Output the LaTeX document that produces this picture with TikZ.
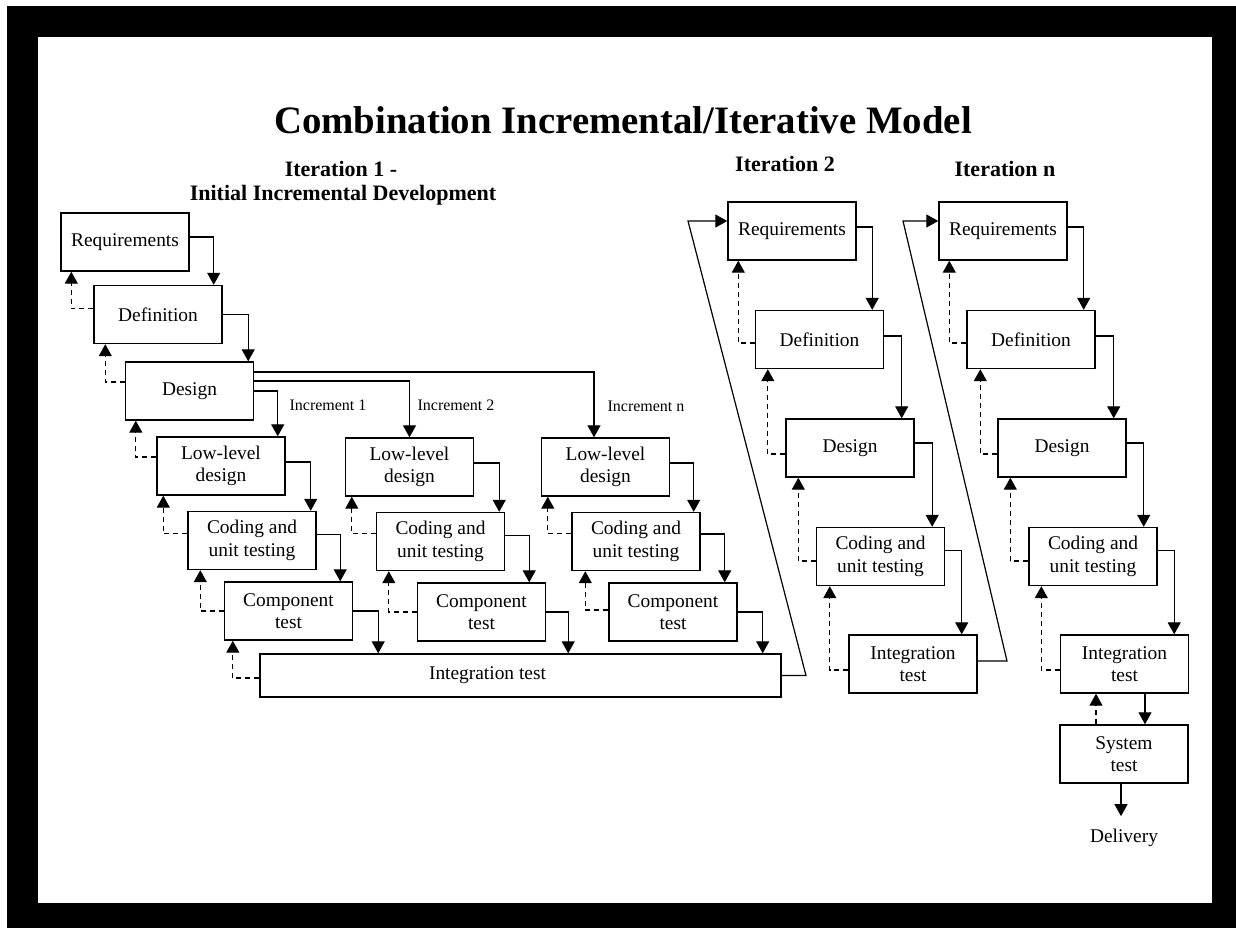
\documentclass[tikz,border=0pt]{standalone}
\usepackage{fontspec}
\setmainfont{Liberation Serif}
\usetikzlibrary{arrows.meta}

\begin{document}
\begin{tikzpicture}[x=0.5pt,y=-0.5pt,
    stage/.style={draw, line width=0.7pt, minimum width=64pt, minimum height=29pt, inner sep=1pt, align=center, font=\fontsize{9.7}{11.3}\selectfont},
    flow/.style={line width=0.6pt, -{Triangle[width=6.5pt,length=6pt]}},
    back/.style={flow, dash pattern=on 2.5pt off 2pt},
    heading/.style={anchor=base, font=\fontsize{11}{12}\selectfont\bfseries},
    inclabel/.style={font=\fontsize{8}{9.6}\selectfont}]
    \useasboundingbox (0,0) rectangle (1236,928);
    % black frame
    \fill[black] (7,6) rectangle (1236,928);
    \fill[white] (38,37) rectangle (1212,903);

    % titles
    \node[anchor=base, font=\fontsize{19.4}{22}\selectfont\bfseries] (title) at (623,133) {Combination Incremental/Iterative Model};
    \node[heading] (headIa) at (341,176) {Iteration 1 -};
    \node[heading] (headIb) at (343,200) {Initial Incremental Development};
    \node[heading] (headII) at (785,171) {Iteration 2};
    \node[heading] (headN) at (1005,176) {Iteration n};

    % iteration 1
    \node[stage] (reqI) at (125,242) {Requirements};
    \node[stage] (defI) at (158,314.5) {Definition};
    \node[stage] (desI) at (189.5,391) {Design};
    \node[stage] (lowI1) at (221,466) {Low-level\\design};
    \node[stage] (codI1) at (252,540.5) {Coding and\\unit testing};
    \node[stage] (comI1) at (288.5,611) {Component\\test};
    \node[stage] (lowI2) at (409.5,467) {Low-level\\design};
    \node[stage] (codI2) at (440.5,541.5) {Coding and\\unit testing};
    \node[stage] (comI2) at (481.5,612) {Component\\test};
    \node[stage] (lowIn) at (605.5,467) {Low-level\\design};
    \node[stage] (codIn) at (636,541.5) {Coding and\\unit testing};
    \node[stage] (comIn) at (673,612) {Component\\test};
    \node[stage, minimum width=260.5pt, minimum height=21.5pt] (intI) at (520.5,675.5) {Integration test\hspace*{33pt}};
    \node[inclabel] (incl1) at (328,405) {Increment 1};
    \node[inclabel] (incl2) at (456,405) {Increment 2};
    \node[inclabel] (incln) at (646,406) {Increment n};

    \draw[flow] ([yshift=2.5pt]reqI.east) -| ([xshift=-4.5pt]defI.north east);
    \draw[flow] (defI.east) -| ([xshift=-3pt]desI.north east);
    \draw[flow] (desI.east) -| ([xshift=-4pt]lowI1.north east);
    \draw[flow] ([yshift=5pt]desI.east) -| (lowI2.north);
    \draw[flow] ([yshift=9.5pt]desI.east) -| ([xshift=-5.75pt]lowIn.north);
    \draw[flow] ([yshift=2pt]lowI1.east) -| ([xshift=-3pt]codI1.north east);
    \draw[flow] ([yshift=3pt]codI1.east) -| ([xshift=-6.5pt]comI1.north east);
    \draw[flow] (comI1.east) -| ([xshift=12.5pt]comI1.east |- intI.north);
    \draw[flow] ([yshift=2pt]lowI2.east) -| ([xshift=-3pt]codI2.north east);
    \draw[flow] ([yshift=3pt]codI2.east) -| ([xshift=-8.5pt]comI2.north east);
    \draw[flow] (comI2.east) -| ([xshift=11pt]comI2.east |- intI.north);
    \draw[flow] ([yshift=2pt]lowIn.east) -| ([xshift=-3.5pt]codIn.north east);
    \draw[flow] ([yshift=3.75pt]codIn.east) -| ([xshift=-6.5pt]comIn.north east);
    \draw[flow] (comIn.east) -| ([xshift=12.5pt]comIn.east |- intI.north);

    \draw[back] ([yshift=3pt]defI.west) -| ([xshift=5.5pt]reqI.south west);
    \draw[back] ([yshift=4.5pt]desI.west) -| ([xshift=6pt]defI.south west);
    \draw[back] ([yshift=4.5pt]lowI1.west) -| ([xshift=5.5pt]desI.south west);
    \draw[back] ([yshift=3.5pt]codI1.west) -| ([xshift=3.5pt]lowI1.south west);
    \draw[back] (comI1.west) -| ([xshift=6.5pt]codI1.south west);
    \draw[back] ([yshift=-1.25pt]intI.west) -| ([xshift=4.5pt]comI1.south west);
    \draw[back] ([yshift=4pt]codI2.west) -| ([xshift=3.5pt]lowI2.south west);
    \draw[back] (comI2.west) -| ([xshift=6.5pt]codI2.south west);
    \draw[back] ([yshift=4pt]codIn.west) -| ([xshift=3.5pt]lowIn.south west);
    \draw[back] ([yshift=1pt]comIn.west) -| ([xshift=7pt]codIn.south west);

    % iteration 2
    \node[stage] (reqII) at (792,231) {Requirements};
    \node[stage] (defII) at (819.5,339.5) {Definition};
    \node[stage] (desII) at (850,448) {Design};
    \node[stage] (codII) at (880.5,556.5) {Coding and\\unit testing};
    \node[stage] (intII) at (913,664) {Integration\\test};

    \draw[flow] ([yshift=2pt]reqII.east) -| ([xshift=-6pt]defII.north east);
    \draw[flow] ([yshift=1.75pt]defII.east) -| ([xshift=-6.5pt]desII.north east);
    \draw[flow] ([yshift=2.5pt]desII.east) -| ([xshift=-6.5pt]codII.north east);
    \draw[flow] ([yshift=3pt]codII.east) -| ([xshift=-8pt]intII.north east);

    \draw[back] ([yshift=-1.75pt]defII.west) -| ([xshift=5.5pt]reqII.south west);
    \draw[back] ([yshift=-3pt]desII.west) -| ([xshift=6.5pt]defII.south west);
    \draw[back] ([yshift=-2.25pt]codII.west) -| ([xshift=6.5pt]desII.south west);
    \draw[back] ([yshift=-3pt]intII.west) -| ([xshift=7pt]codII.south west);

    % iteration n
    \node[stage] (reqN) at (1003,231) {Requirements};
    \node[stage] (defN) at (1031,339.5) {Definition};
    \node[stage] (desN) at (1062,448) {Design};
    \node[stage] (codN) at (1093,556.5) {Coding and\\unit testing};
    \node[stage] (intN) at (1124.5,664) {Integration\\test};
    \node[stage] (sysN) at (1124,754) {System\\test};
    \node[anchor=base, font=\fontsize{9.7}{11.3}\selectfont, inner sep=1pt] (deliv) at (1124,842) {Delivery};

    \draw[flow] ([yshift=2pt]reqN.east) -| ([xshift=-6pt]defN.north east);
    \draw[flow] ([yshift=1.75pt]defN.east) -| ([xshift=-6.5pt]desN.north east);
    \draw[flow] ([yshift=2.5pt]desN.east) -| ([xshift=-7pt]codN.north east);
    \draw[flow] ([yshift=3pt]codN.east) -| ([xshift=-7.5pt]intN.north east);
    \draw[flow] ([xshift=10.25pt]intN.south) -- ([xshift=10.25pt]intN.south |- sysN.north);
    \draw[flow] ([xshift=-1.5pt]sysN.south) -- ([xshift=-1.5pt,yshift=5pt]sysN.south |- deliv.north);

    \draw[back] ([yshift=-1.75pt]defN.west) -| ([xshift=5.5pt]reqN.south west);
    \draw[back] ([yshift=-3pt]desN.west) -| ([xshift=7pt]defN.south west);
    \draw[back] ([yshift=-2.25pt]codN.west) -| ([xshift=6.5pt]desN.south west);
    \draw[back] ([yshift=-3pt]intN.west) -| ([xshift=6.5pt]codN.south west);
    \draw[back] ([xshift=-14pt]sysN.north) -- ([xshift=-14pt]sysN.north |- intN.south);

    % from one iteration to the next
    \coordinate (backI) at (806,675.5);
    \coordinate (topI) at (688,221);
    \draw[flow] (intI.east) -- (backI) -- (topI) -- ([yshift=5pt]reqII.west);
    \coordinate (backII) at (1007,661);
    \coordinate (topII) at (903,221);
    \draw[flow] ([yshift=1.5pt]intII.east) -- (backII) -- (topII) -- ([yshift=5pt]reqN.west);
\end{tikzpicture}
\end{document}
